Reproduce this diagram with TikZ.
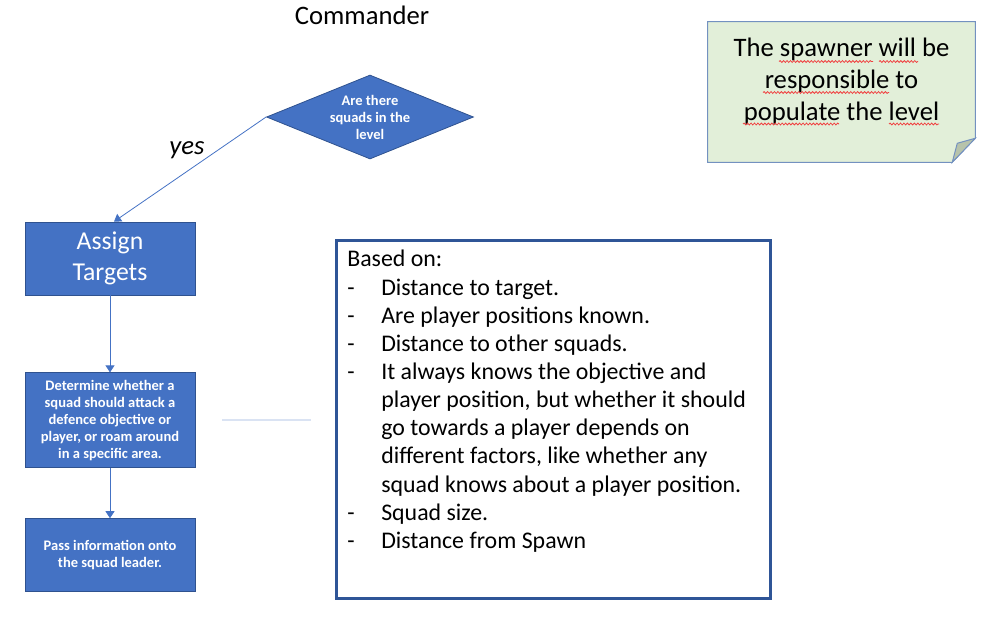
\documentclass[tikz,border=0pt]{standalone}
\usepackage{fontspec}
\setmainfont{Carlito}
\usetikzlibrary{arrows.meta,positioning,calc,shapes.geometric,decorations.pathmorphing}
\definecolor{flowblue}{HTML}{4472C4}
\definecolor{flowedge}{HTML}{2F528F}
\definecolor{boxedge}{HTML}{2F5597}
\definecolor{notefill}{HTML}{E2EFD9}
\definecolor{noteedge}{HTML}{7391C0}
\definecolor{notefold}{HTML}{B7C3AB}
\definecolor{faintline}{HTML}{DAE3F3}
\definecolor{spellred}{HTML}{F04040}

\begin{document}
\begin{tikzpicture}[
  x=0.75pt,y=-0.75pt,
  node distance=57.75pt,
  stepbox/.style={draw=flowedge,fill=flowblue,line width=0.6pt,minimum width=127.5pt,inner sep=2pt,align=center,text=white},
  smalltext/.style={font=\fontsize{10.9}{12.75}\selectfont\bfseries},
  decision/.style={diamond,draw=flowedge,fill=flowblue,line width=0.6pt,aspect=2.46,inner sep=0pt,minimum width=155.25pt,minimum height=63pt,align=center,text=white},
  arrow/.style={-{Triangle[length=5.25pt,width=6.75pt]},flowblue,line width=0.6pt},
  infobox/.style={draw=boxedge,line width=2.25pt,minimum width=325.5pt,minimum height=268.5pt},
  infotext/.style={anchor=north west,inner sep=0pt,font=\fontsize{17.9}{21.1}\selectfont},
  spell/.style={spellred,line width=0.6pt,decorate,decoration={snake,amplitude=0.7pt,segment length=2.6pt}}
]
\useasboundingbox (0,0) rectangle (997,626);

\node[font=\fontsize{20}{24}\selectfont] (title) at (362,15) {Commander};

% flow on the left
\node[decision,smalltext] (squads) at (370,117) {Are there\\squads in the\\level};
\node[stepbox,minimum height=54.75pt,font=\fontsize{19.3}{23.25}\selectfont] (assign) at (110,258.5) {Assign\\Targets};
\node[stepbox,smalltext,minimum height=71.25pt,below=57.75pt of assign] (determine) {Determine whether a\\squad should attack a\\defence objective or\\player, or roam around\\in a specific area.};
\node[stepbox,smalltext,minimum height=54.75pt,below=37.5pt of determine] (pass) {Pass information onto\\the squad leader.};

\draw[arrow] (squads.west) -- ($(assign.north)+(4,0)$);
\node[font=\fontsize{20}{24}\selectfont\itshape] (yes) at (187,150) {yes};
\draw[arrow] (assign) -- (determine);
\draw[arrow] (determine) -- (pass);

\coordinate (gapL) at (222,420);
\coordinate (gapR) at (311,420);
\draw[faintline,line width=1pt] (gapL) -- (gapR);

% criteria box
\node[infobox] (criteria) at (553.5,419.5) {};
\node[infotext] (criteria text) at (347,247) {%
\begin{tabular}{@{}p{25.5pt}@{}l@{}}
\multicolumn{2}{@{}l@{}}{Based on:}\\
-&Distance to target.\\
-&Are player positions known.\\
-&Distance to other squads.\\
-&It always knows the objective and\\
 &player position, but whether it should\\
 &go towards a player depends on\\
 &different factors, like whether any\\
 &squad knows about a player position.\\
-&Squad size.\\
-&Distance from Spawn
\end{tabular}};

% sticky note
\node[minimum width=200.25pt,minimum height=105pt] (notebox) at (841.5,92) {};
\draw[noteedge,fill=notefill,line width=0.75pt] (notebox.north west) -- (notebox.north east)
  -- ($(notebox.south east)+(0,-24)$) -- ($(notebox.south east)+(-23,0)$) -- (notebox.south west) -- cycle;
\draw[noteedge,fill=notefold,line width=0.75pt] ($(notebox.south east)+(0,-24)$)
  -- ($(notebox.south east)+(-18,-19)$) -- ($(notebox.south east)+(-23,0)$) -- cycle;
\node[font=\fontsize{20}{24}\selectfont,align=center] (spawner) at ($(notebox)+(0,-11)$) {The spawner will be\\responsible to\\populate the level};
\draw[spell] (779,61.5) -- (873,61.5);
\draw[spell] (879,61.5) -- (918,61.5);
\draw[spell] (763,92.5) -- (889,92.5);
\draw[spell] (743,124) -- (839,124);
\draw[spell] (889,124) -- (939,124);
\end{tikzpicture}
\end{document}
